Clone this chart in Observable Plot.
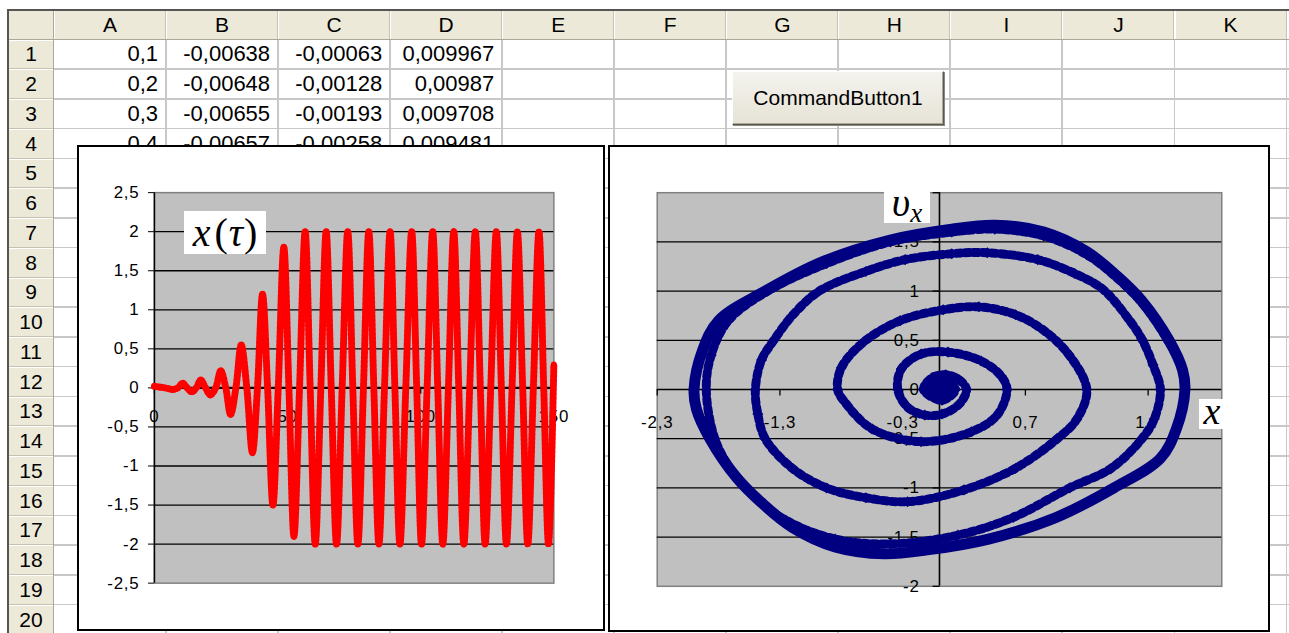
<!DOCTYPE html>
<html><head><meta charset="utf-8">
<script src="https://cdn.jsdelivr.net/npm/d3@7"></script>
<script src="https://cdn.jsdelivr.net/npm/@observablehq/plot@0.6"></script>
<style>
html,body{margin:0;padding:0;}
body{width:1289px;height:633px;overflow:hidden;position:relative;background:#fff;font-family:"Liberation Sans",Arial,sans-serif;color:#000;}
#sheet{position:absolute;left:0;top:0;width:1289px;height:633px;}
.chartbox{position:absolute;border:2px solid #000;background:#fff;box-sizing:border-box;}
.chartbox svg{position:absolute;left:-2px;top:-2px;overflow:visible;}
.lbl{position:absolute;background:#fff;font-family:"Liberation Serif","Times New Roman",serif;color:#000;display:flex;align-items:center;justify-content:center;white-space:nowrap;line-height:1;}
.lbl i{font-style:italic;}
</style></head>
<body>
<div id="sheet"></div>
<div class="chartbox" id="leftChart" style="left:77px;top:145px;width:528px;height:486px"></div>
<div class="chartbox" id="rightChart" style="left:608px;top:145px;width:662px;height:487px"></div>
<div class="lbl" style="left:184px;top:211px;width:82px;height:43px;font-size:40px;"><i>x</i><span style="margin-left:4px">(</span><i style="margin-left:1px">τ</i><span style="margin-left:1px">)</span></div>
<div class="lbl" style="left:884px;top:189px;width:46px;height:34px;font-size:40px;"><i style="position:relative;top:-3px;">υ</i><i style="font-size:27px;position:relative;top:7px;">x</i></div>
<div class="lbl" style="left:1199px;top:399px;width:26px;height:30px;font-size:38px;"><i style="position:relative;top:-3px;">x</i></div>
<script>
// ---------- spreadsheet content ----------
const colLetters = ["A","B","C","D","E","F","G","H","I","J","K"];
const rowNumbers = [1,2,3,4,5,6,7,8,9,10,11,12,13,14,15,16,17,18,19,20];
const cellRows = [
  ["0,1","-0,00638","-0,00063","0,009967"],
  ["0,2","-0,00648","-0,00128","0,00987"],
  ["0,3","-0,00655","-0,00193","0,009708"],
  ["0,4","-0,00657","-0,00258","0,009481"]
];
const buttonLabel = "CommandButton1";

// ---------- time series x(tau) ----------
const tauVals = [0,4,7,8.8,10.6,12.3,14,15.7,17.4,19.2,21,23,24.9,26.8,28.6,30.6,32.6,34.7,36.8,38.7,40.6,42.5,44.5,46.5,48.6,50.5,52.4,54.5,56.6,58.5,60.4,62.5,64.5,66.4,68.4,70.5,72.6,74.5,76.4,78.5,80.5,82.4,84.3,86.4,88.5,90.3,92.2,94.4,96.6,98.5,100.3,102.4,104.5,106.4,108.3,110.4,112.4,114.3,116.2,118.4,120.5,122.4,124.2,126.3,128.4,130.3,132.2,134.3,136.3,138.3,140.2,142.3,144.4,146.2,148,150];
const xVals = [0.02,0,-0.02,0,0.06,0,-0.05,0,0.10,0,-0.09,0,0.22,0,-0.34,0,0.55,0,-0.83,0,1.2,0,-1.5,0,1.8,0,-1.9,0,2,0,-2,0,2,0,-2,0,2,0,-2,0,2,0,-2,0,2,0,-2,0,2,0,-2,0,2,0,-2,0,2,0,-2,0,2,0,-2,0,2,0,-2,0,2,0,-2,0,2,0,-2,0.3];
const yTicksL = [-2.5,-2,-1.5,-1,-0.5,0,0.5,1,1.5,2,2.5];
const gridL = [-2,-1.5,-1,-0.5,0.5,1,1.5,2];
const xTicksL = [0,50,100,150];

// ---------- phase portrait (x, v_x) ----------
const spiralX = [0.02,0,-0.04,0,0.08,0.02,-0.08,0.02,0.13,0.02,-0.13,-0.06,0.05,0.16,0.22,0.16,0.02,-0.12,-0.26,-0.34,-0.31,-0.15,0.07,0.34,0.50,0.55,0.47,0.26,-0.15,-0.55,-0.77,-0.83,-0.80,-0.62,-0.32,0.03,0.32,0.62,0.85,1.05,1.20,1.12,0.96,0.62,0.20,-0.26,-0.60,-0.92,-1.20,-1.42,-1.48,-1.50,-1.45,-1.35,-1.20,-0.98,-0.60,-0.28,0.10,0.39,0.80,1.10,1.33,1.55,1.65,1.74,1.80,1.75,1.65,1.40,1.06,0.60,0.15,-0.40,-0.85,-1.25,-1.50,-1.68,-1.83,-1.90,-1.86,-1.72,-1.40,-0.92,-0.40,0.10,0.45,0.85,1.20,1.45,1.65,1.87,1.98,2.00];
const spiralV = [0,-0.03,0,0.05,0,-0.07,0,0.09,0,-0.11,0,0.12,0.15,0.10,0,-0.15,-0.25,-0.26,-0.18,0,0.21,0.36,0.38,0.29,0.14,0,-0.26,-0.43,-0.53,-0.40,-0.13,0,0.22,0.48,0.70,0.81,0.84,0.76,0.60,0.36,0,-0.30,-0.50,-0.80,-1.02,-1.14,-1.10,-1.00,-0.80,-0.50,-0.25,0,0.30,0.50,0.75,1.00,1.20,1.32,1.38,1.39,1.32,1.18,1.02,0.70,0.51,0.25,0,-0.30,-0.50,-0.80,-1.00,-1.30,-1.48,-1.57,-1.52,-1.33,-1.10,-0.85,-0.50,0,0.35,0.70,1.00,1.28,1.50,1.60,1.63,1.56,1.37,1.13,0.88,0.48,0.20,0];
const limitX = [-2.00,-1.93,-1.80,-1.42,-0.95,-0.40,0.10,0.45,0.85,1.20,1.45,1.65,1.87,1.98,2.00,1.93,1.80,1.42,0.95,0.40,-0.10,-0.45,-0.85,-1.20,-1.45,-1.65,-1.87,-1.98];
const limitV = [0,0.40,0.70,1.00,1.30,1.52,1.63,1.67,1.60,1.40,1.15,0.90,0.50,0.20,0,-0.40,-0.70,-1.00,-1.30,-1.52,-1.63,-1.67,-1.60,-1.40,-1.15,-0.90,-0.50,-0.20];
const yTicksR = [-2,-1.5,-1,-0.5,0,0.5,1,1.5,2];
const yLabelsR = [-2,-1.5,-1,-0.5,0,0.5,1,1.5];
const gridR = [-1.5,-1,-0.5,0.5,1,1.5];
const xTicksR = [-2.3,-1.3,-0.3,0.7,1.7];

// ---------- build spreadsheet ----------
const sheet = document.getElementById("sheet");
function box(l,t,w,h,style){const d=document.createElement("div");d.style.cssText=`position:absolute;left:${l}px;top:${t}px;width:${w}px;height:${h}px;${style||""}`;sheet.appendChild(d);return d;}
const L0=8, T0=10, HB=39.5, CW=112.05, C0=54, RH=29.75;
box(L0,T0,C0-L0,HB-T0,"background:#ECE9D8;");
colLetters.forEach((c,i)=>{const d=box(C0+i*CW,T0,CW,HB-T0,"background:#ECE9D8;display:flex;align-items:center;justify-content:center;font-size:21px;border-left:1.5px solid #fff;border-right:1px solid #C5C2B2;box-sizing:border-box;");d.textContent=c;});
rowNumbers.forEach((r,i)=>{const d=box(L0,HB+i*RH,C0-L0,RH,"background:#ECE9D8;display:flex;align-items:center;justify-content:center;font-size:21px;border-top:1.5px solid #fff;border-bottom:1px solid #C5C2B2;box-sizing:border-box;");d.textContent=r;});
colLetters.forEach((c,i)=>box(C0+(i+1)*CW-1,HB,1.5,633-HB,"background:#C8C8C8;"));
rowNumbers.forEach((r,i)=>box(C0,HB+(i+1)*RH-1,1289-C0,1.5,"background:#C8C8C8;"));
box(L0,HB-1,1289-L0,1.2,"background:#ACA899;");
box(C0-1,T0,1.2,633-T0,"background:#ACA899;");
box(L0-1,T0-1,1289-L0+1,1.5,"background:#555;");
box(L0-1,T0-1,1.5,633-T0+1,"background:#555;");
cellRows.forEach((row,ri)=>row.forEach((v,ci)=>{const d=box(C0+ci*CW,HB+ri*RH,CW-1,RH,"display:flex;align-items:center;justify-content:flex-end;padding-right:7px;box-sizing:border-box;font-size:22px;white-space:nowrap;");d.textContent=v;}));
const btn=box(732,71,212,54,"background:linear-gradient(#F4F3EE,#E6E3D6);border:1px solid;border-color:#fff #5A5850 #5A5850 #fff;box-shadow:inset -1px -1px #ACA899, 1px 1px #8a887e;box-sizing:border-box;display:flex;align-items:center;justify-content:center;font-size:21px;");
btn.textContent=buttonLabel;

// ---------- charts ----------
const fmt = d => String(d).replace(".", ",");
const tickDown = {draw(c){c.moveTo(0,0);c.lineTo(0,6);}};
const tickLeft = {draw(c){c.moveTo(0,0);c.lineTo(-7,0);}};
const series = tauVals.map((t,i)=>({t, x: xVals[i]}));
const spiral = spiralX.map((x,i)=>({x, v: spiralV[i]}));
const limitCycle = limitX.map((x,i)=>({x, v: limitV[i]}));
const RED = "#ff0000", NAVY = "#000080";
const baseStyle = {fontFamily:"'Liberation Sans', Arial, sans-serif", fontSize:"17px", letterSpacing:"0.8px", color:"#000", background:"transparent", overflow:"visible"};

const leftPlot = Plot.plot({
  width: 528, height: 486,
  marginLeft: 77.5, marginRight: 48, marginTop: 47.5, marginBottom: 45,
  x: {domain: [0,150], axis: null},
  y: {domain: [-2.5,2.5], label: null},
  style: baseStyle,
  marks: [
    Plot.frame({fill:"#c0c0c0", stroke:"#808080", strokeWidth:1.5}),
    Plot.ruleY(gridL, {stroke:"#000", strokeWidth:1.3}),
    Plot.axisY({ticks: yTicksL, tickFormat: fmt, tickSize: 6, tickPadding: 9, stroke:"#000", fill:"#000", fontSize: 17, label: null}),
    Plot.ruleX([0], {stroke:"#000", strokeWidth:1.5}),
    Plot.ruleY([0], {stroke:"#000", strokeWidth:2.2}),
    Plot.dot(xTicksL, {x: d=>d, y: ()=>0, symbol: tickDown, stroke:"#000", fill:"none", strokeWidth:1.3}),
    Plot.text(xTicksL, {x: d=>d, y: ()=>0, dy: 29, text: fmt, fill:"#000"}),
    Plot.line(series, {x:"t", y:"x", stroke:RED, strokeWidth:3, curve:"catmull-rom"}),
    Plot.line(series, {x:"t", y:"x", stroke:RED, strokeWidth:7, strokeDasharray:"2,2.5", curve:"catmull-rom"}),
    Plot.dot(series, {x:"t", y:"x", r:3, fill:RED})
  ]
});
document.getElementById("leftChart").appendChild(leftPlot);

const rightPlot = Plot.plot({
  width: 662, height: 487,
  marginLeft: 49, marginRight: 45, marginTop: 47.5, marginBottom: 43.5,
  x: {domain: [-2.3,2.3], axis: null},
  y: {domain: [-2,2], axis: null},
  style: baseStyle,
  marks: [
    Plot.frame({fill:"#c0c0c0", stroke:"#808080", strokeWidth:1.5}),
    Plot.ruleY(gridR, {stroke:"#000", strokeWidth:1.3}),
    Plot.ruleY([0], {stroke:"#000", strokeWidth:1.6}),
    Plot.ruleX([0], {stroke:"#000", strokeWidth:1.6}),
    Plot.dot(yTicksR, {x: ()=>0, y: d=>d, symbol: tickLeft, stroke:"#000", fill:"none", strokeWidth:1.3}),
    Plot.dot(xTicksR, {x: d=>d, y: ()=>0, symbol: tickDown, stroke:"#000", fill:"none", strokeWidth:1.3}),
    Plot.text(yLabelsR, {x: ()=>0, y: d=>d, dx: -20, textAnchor:"end", text: fmt, fill:"#000"}),
    Plot.text(xTicksR, {x: d=>d, y: ()=>0, dy: 33, text: fmt, fill:"#000"}),
    Plot.line(limitCycle, {x:"x", y:"v", stroke:NAVY, strokeWidth:11, curve:"catmull-rom-closed"}),
    Plot.line(spiral, {x:"x", y:"v", stroke:NAVY, strokeWidth:3.5, curve:"catmull-rom"}),
    Plot.line(spiral, {x:"x", y:"v", stroke:NAVY, strokeWidth:9, strokeDasharray:"5,4", curve:"catmull-rom"}),
    Plot.dot(spiral, {x:"x", y:"v", r:5, symbol:"diamond2", fill:NAVY})
  ]
});
document.getElementById("rightChart").appendChild(rightPlot);
</script>
</body></html>
